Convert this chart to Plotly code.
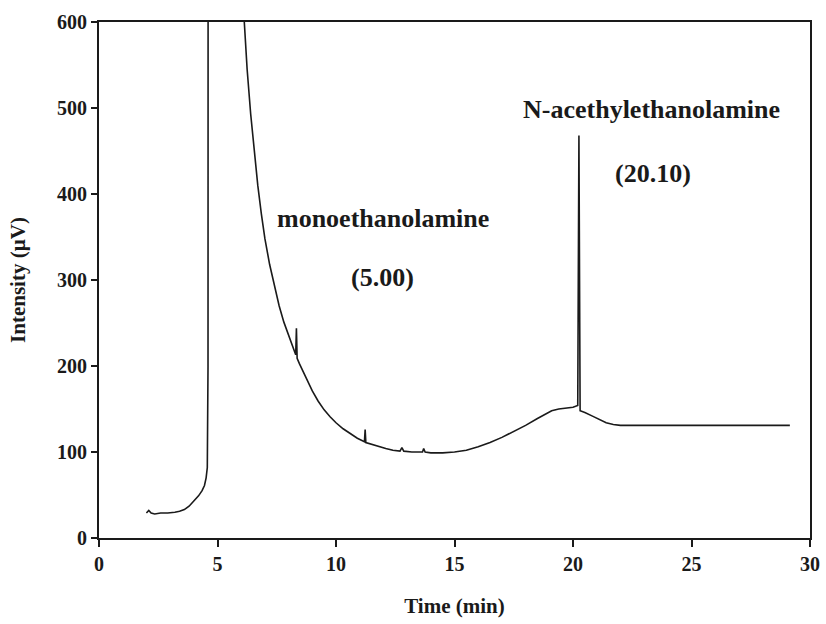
import plotly.graph_objects as go

# Chromatogram trace (time in min, intensity in µV)
time_min = [
    2.0, 2.1, 2.2, 2.35, 2.6, 2.9, 3.2, 3.4, 3.6, 3.8, 4.0, 4.2, 4.35, 4.45, 4.52, 4.57,
    4.6, 4.62, 5.2, 5.9, 6.0, 6.12, 6.25, 6.4, 6.55, 6.7, 6.85, 7.0, 7.2, 7.4, 7.6, 7.8,
    8.0, 8.2, 8.3, 8.33, 8.36, 8.45, 8.6, 8.8, 9.0, 9.25, 9.5, 9.75, 10.0, 10.3, 10.6,
    10.9, 11.2, 11.23, 11.26, 11.5, 11.8, 12.1, 12.4, 12.7, 12.78, 12.86, 13.2, 13.65,
    13.7, 13.76, 14.0, 14.5, 15.0, 15.5, 16.0, 16.5, 17.0, 17.5, 18.0, 18.5, 18.8, 19.1,
    19.4, 19.7, 20.0, 20.2, 20.25, 20.3, 20.5, 20.8, 21.1, 21.4, 21.7, 22.0, 29.15,
]
intensity = [
    29, 32, 29, 28, 29, 29, 30, 31, 33, 37, 43, 49, 55, 61, 70, 82,
    200, 3000, 3000, 720, 660, 600, 545, 493, 450, 410, 377, 348, 318, 292, 270, 251,
    235, 220, 213, 244, 209, 203, 194, 182, 171, 159, 149, 141, 134, 127, 121,
    116, 112, 126, 111, 109, 106, 104, 102, 101, 105, 101, 100, 100,
    104, 100, 99, 99, 100, 102, 106, 111, 117, 124, 131, 139, 144, 148,
    150, 151, 152, 154, 468, 148, 146, 142, 138, 134, 132, 131, 131,
]

x_ticks = [0, 5, 10, 15, 20, 25, 30]
y_ticks = [0, 100, 200, 300, 400, 500, 600]

# Peak labels: (text, time, intensity)
labels = [
    ("monoethanolamine", 11.98, 372),
    ("(5.00)", 11.98, 303),
    ("N-acethylethanolamine", 23.33, 498),
    ("(20.10)", 23.38, 424),
]

FONT = "Liberation Serif, Times New Roman, serif"
INK = "#1a1a1a"

fig = go.Figure()
fig.add_trace(go.Scatter(
    x=time_min, y=intensity, mode="lines",
    line=dict(color=INK, width=1.6),
    showlegend=False, hoverinfo="skip",
))

for text, tx, ty in labels:
    fig.add_annotation(
        x=tx, y=ty, xref="x", yref="y", text=text, showarrow=False,
        font=dict(family=FONT, size=26, color=INK, weight=700),
    )

axis_common = dict(
    showgrid=False, zeroline=False, showline=True, linecolor=INK, linewidth=2,
    mirror=True, ticks="outside", tickcolor=INK, tickwidth=2,
    tickfont=dict(family=FONT, size=20, color=INK, weight=700),
)

fig.update_layout(
    width=826, height=624,
    margin=dict(l=99, r=16, t=22, b=86, autoexpand=False),
    paper_bgcolor="white", plot_bgcolor="white",
    xaxis=dict(
        range=[0, 30], tickvals=x_ticks, ticklen=7,
        title=dict(text="Time (min)", standoff=24,
                   font=dict(family=FONT, size=21, color=INK, weight=700)),
        **axis_common,
    ),
    yaxis=dict(
        range=[0, 600], tickvals=y_ticks, ticklen=6,
        title=dict(text="Intensity (µV)", standoff=26,
                   font=dict(family=FONT, size=21, color=INK, weight=700)),
        **axis_common,
    ),
)

fig.write_html("out.html")
